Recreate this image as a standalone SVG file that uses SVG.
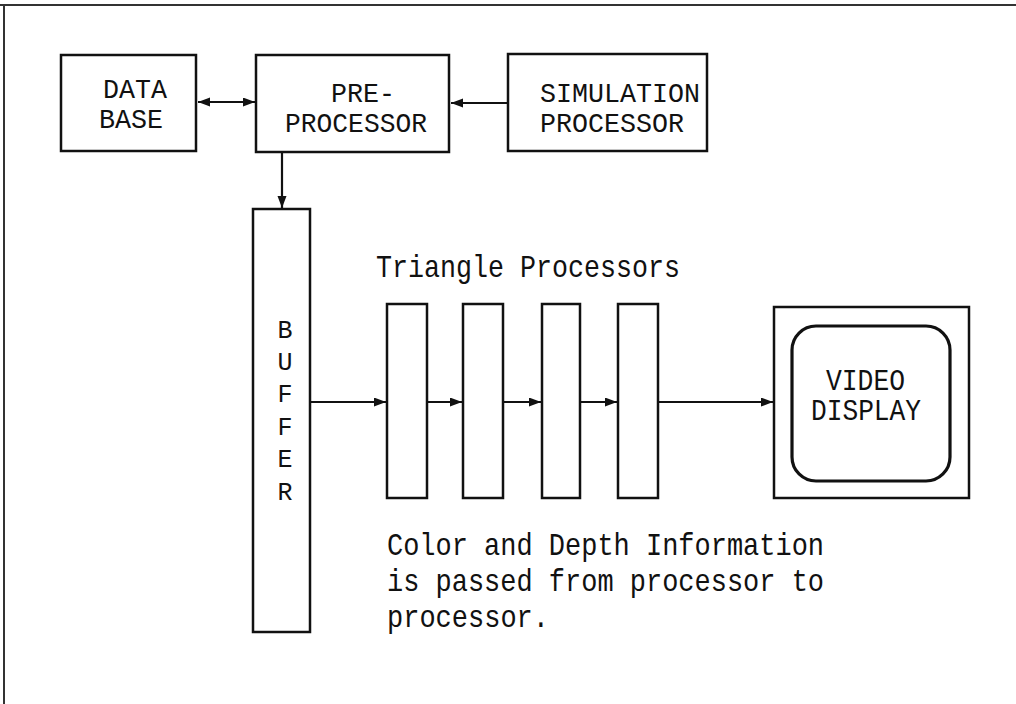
<svg xmlns="http://www.w3.org/2000/svg" width="1016" height="704" viewBox="0 0 1016 704">
<style>
.box{fill:#fff;stroke:#111;stroke-width:2.5}
.ln{fill:none;stroke:#111;stroke-width:2.2}
.t{font-family:"Liberation Mono","DejaVu Sans Mono",monospace;fill:#111}
</style>
<defs>
<marker id="ah" markerUnits="userSpaceOnUse" markerWidth="13" markerHeight="10" refX="12" refY="4.5" orient="auto-start-reverse">
<path d="M0,0 L12,4.5 L0,9 z" fill="#111"/>
</marker>
</defs>
<rect width="1016" height="704" fill="#fff"/>
<g id="frame">
<line x1="0" y1="5" x2="1016" y2="5" stroke="#333" stroke-width="2"/>
<line x1="4" y1="5" x2="4" y2="704" stroke="#333" stroke-width="2"/>
</g>
<g id="connectors">
<line class="ln" x1="198" y1="102" x2="255" y2="102" marker-start="url(#ah)" marker-end="url(#ah)"/>
<line class="ln" x1="507" y1="103" x2="451" y2="103" marker-end="url(#ah)"/>
<line class="ln" x1="282" y1="153" x2="282" y2="208" marker-end="url(#ah)"/>
<line class="ln" x1="311" y1="402" x2="386" y2="402" marker-end="url(#ah)"/>
<line class="ln" x1="428" y1="402" x2="462" y2="402" marker-end="url(#ah)"/>
<line class="ln" x1="504" y1="402" x2="541" y2="402" marker-end="url(#ah)"/>
<line class="ln" x1="581" y1="402" x2="617" y2="402" marker-end="url(#ah)"/>
<line class="ln" x1="659" y1="402" x2="773" y2="402" marker-end="url(#ah)"/>
</g>
<g id="database">
<rect class="box" x="61" y="55" width="135" height="96"/>
<text class="t" x="103" y="98" font-size="28" textLength="64" lengthAdjust="spacingAndGlyphs">DATA</text>
<text class="t" x="99" y="128" font-size="28" textLength="64" lengthAdjust="spacingAndGlyphs">BASE</text>
</g>
<g id="preprocessor">
<rect class="box" x="256" y="55" width="193" height="97"/>
<text class="t" x="331" y="102" font-size="28" textLength="64" lengthAdjust="spacingAndGlyphs">PRE-</text>
<text class="t" x="285" y="132" font-size="28" textLength="142" lengthAdjust="spacingAndGlyphs">PROCESSOR</text>
</g>
<g id="simulation">
<rect class="box" x="508" y="54" width="199" height="97"/>
<text class="t" x="540" y="102" font-size="28" textLength="160" lengthAdjust="spacingAndGlyphs">SIMULATION</text>
<text class="t" x="540" y="132" font-size="28" textLength="144" lengthAdjust="spacingAndGlyphs">PROCESSOR</text>
</g>
<g id="buffer">
<rect class="box" x="253" y="209" width="57" height="423"/>
<g class="t" font-size="25" text-anchor="middle">
<text x="285" y="338">B</text>
<text x="285" y="370">U</text>
<text x="285" y="402">F</text>
<text x="285" y="435">F</text>
<text x="285" y="467">E</text>
<text x="285" y="500">R</text>
</g>
</g>
<g id="triangle-label">
<text class="t" x="376" y="277" font-size="32" textLength="304" lengthAdjust="spacingAndGlyphs">Triangle Processors</text>
</g>
<g id="tp1"><rect class="box" x="387" y="304" width="40" height="194"/></g>
<g id="tp2"><rect class="box" x="463" y="304" width="40" height="194"/></g>
<g id="tp3"><rect class="box" x="542" y="304" width="38" height="194"/></g>
<g id="tp4"><rect class="box" x="618" y="304" width="40" height="194"/></g>
<g id="video">
<rect class="box" x="774" y="307" width="195" height="191"/>
<rect x="792" y="326" width="158" height="155" rx="24" fill="none" stroke="#111" stroke-width="3.2"/>
<text class="t" x="826" y="390" font-size="29" textLength="79" lengthAdjust="spacingAndGlyphs">VIDEO</text>
<text class="t" x="811" y="420" font-size="29" textLength="110" lengthAdjust="spacingAndGlyphs">DISPLAY</text>
</g>
<g id="note">
<text class="t" x="387" y="555" font-size="32" textLength="437" lengthAdjust="spacingAndGlyphs">Color and Depth Information</text>
<text class="t" x="387" y="591" font-size="32" textLength="437" lengthAdjust="spacingAndGlyphs">is passed from processor to</text>
<text class="t" x="387" y="627" font-size="32" textLength="162" lengthAdjust="spacingAndGlyphs">processor.</text>
</g>
</svg>
